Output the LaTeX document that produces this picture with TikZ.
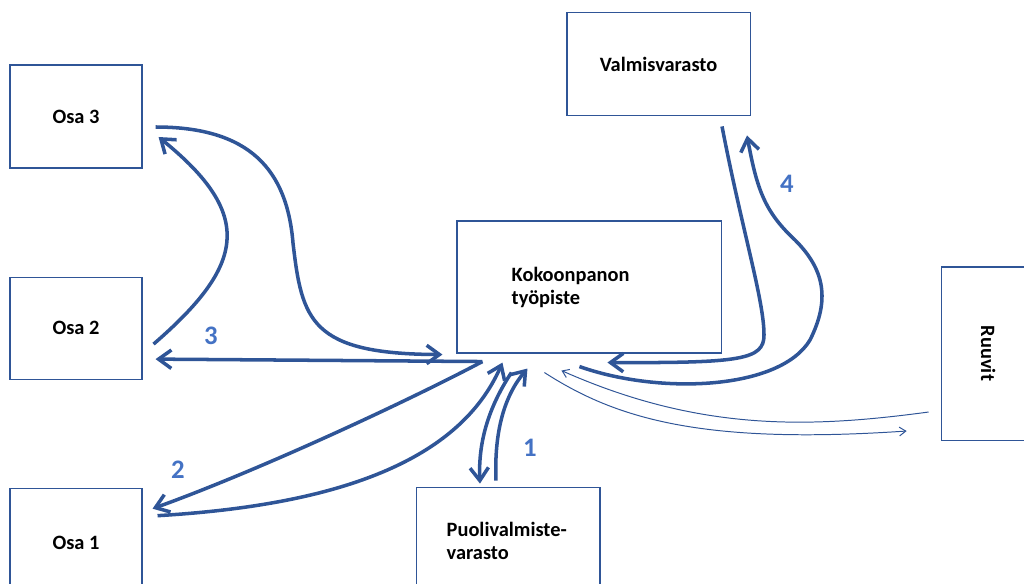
\documentclass[tikz,border=0pt]{standalone}
\usepackage{fontspec}
\setmainfont{Carlito}
\usepackage{graphicx}
\usepackage{tikz}
\usetikzlibrary{positioning,arrows.meta,calc}

\definecolor{flowblue}{RGB}{47,85,151}
\definecolor{numblue}{RGB}{68,114,196}

\tikzset{
  box/.style={draw=flowblue, line width=0.75pt, minimum width=3.3cm, minimum height=2.575cm, inner sep=0pt, font=\bfseries\fontsize{14.5}{16.4}\selectfont},
  lbl/.style={inner sep=0pt, align=left, font=\bfseries\fontsize{14.5}{16.4}\selectfont},
  num/.style={text=numblue, font=\bfseries\fontsize{19}{22}\selectfont},
  flow/.style={draw=flowblue, line width=2.5pt, -{Straight Barb[length=3.2mm,width=4.6mm]}},
  thinflow/.style={draw=flowblue, line width=0.7pt, -{Straight Barb[length=1.6mm,width=2.2mm]}},
}

\begin{document}
\begin{tikzpicture}[x=0.025cm, y=-0.025cm, node distance=2.7cm]
    \clip (0,0) rectangle (1024,584);

    \node (osa3) [box] at (76,116.5) {Osa 3};
    \node (osa2) [box, minimum height=2.55cm, below=of osa3] {Osa 2};
    \node (osa1) [box, minimum height=2.75cm, below=of osa2] {Osa 1};

    \node (kok) [box, minimum width=6.6cm, minimum height=3.3cm] at (589,287) {};
    \node (kokt) [lbl, anchor=west] at ($(kok.west)+(55,0)$) {Kokoonpanon\\työpiste};
    \node (valmis) [box, minimum width=4.575cm, above=2.6cm of kok, xshift=1.7375cm] {Valmisvarasto};
    \node (puoli) [box, minimum width=4.575cm, minimum height=2.7cm, below=3.325cm of kok, xshift=-2.0125cm] {};
    \node (puolit) [lbl, anchor=west] at ($(puoli.west)+(30,0)$) {Puolivalmiste-\\varasto};
    \node (ruuvit) [box, minimum width=2.35cm, minimum height=4.325cm, right=5.475cm of kok, yshift=-1.6625cm] {\rotatebox{-90}{Ruuvit}};

    \node (n1) [num] at (530,448) {1};
    \node (n2) [num] at (178,470) {2};
    \node (n3) [num] at (211,336) {3};
    \node (n4) [num] at (787,184) {4};

    \draw[flow] ($(osa3.east)+(13,10.5)$) .. controls (250,127) and (287,170) .. (293,243)
        .. controls (302,320) and (310,354) .. ($(kok.south west)+(-14,1)$);
    \draw[flow] ($(osa2.east)+(11,16)$) .. controls (245,265) and (255,215) .. ($(osa3.east)+(16,20.5)$);
    \draw[flow] ($(kok.south west)+(26,8)$) -- ($(osa2.east)+(13,31)$);
    \draw[flow] ($(kok.south west)+(26,8)$) .. controls (410,400) and (260,470) .. ($(osa1.north east)+(10,21)$);
    \draw[flow] ($(osa1.north east)+(15,28)$) .. controls (340,505) and (460,460) .. ($(kok.south west)+(46,9)$);

    \draw[flow] ($(kok.south west)+(55,19)$) .. controls (490,405) and (478,440) .. ($(puoli.north)+(-28.5,-3)$);
    \draw[flow] ($(puoli.north)+(-12.5,-6)$) .. controls (494,430) and (505,395) .. ($(kok.south west)+(71,15)$);

    \draw[flow] ($(valmis.south)+(63.5,10)$) .. controls (742,230) and (764,300) .. (764,335)
        .. controls (764,360) and (740,363) .. ($(kok.south west)+(151,9)$);
    \draw[flow] ($(kok.south west)+(123,13)$) .. controls (660,395) and (780,390) .. (810,340)
        .. controls (830,300) and (825,270) .. (795,240)
        .. controls (765,212) and (757,190) .. ($(valmis.south)+(88.5,19)$);

    \draw[thinflow] ($(ruuvit.west)+(-12,58.5)$) .. controls (810,428) and (700,432) .. ($(kok.south west)+(105,17)$);
    \draw[thinflow] ($(kok.south west)+(88,19)$) .. controls (615,418) and (700,445) .. ($(ruuvit.west)+(-34,77.5)$);

\end{tikzpicture}
\end{document}
